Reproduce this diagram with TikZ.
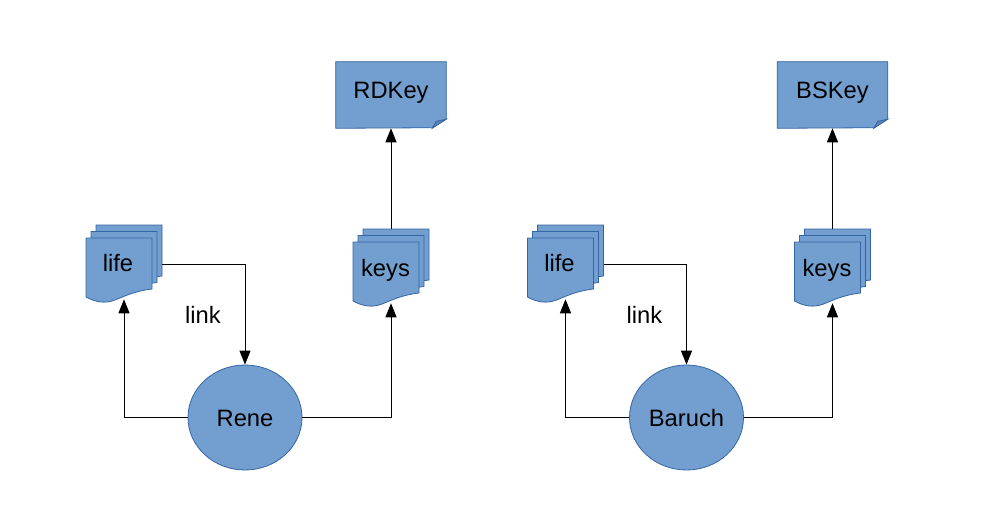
\documentclass[tikz,border=0pt]{standalone}
\usepackage{fontspec}
\setmainfont{Liberation Sans}
\usetikzlibrary{shapes.geometric,arrows.meta}
\definecolor{boxfill}{HTML}{729FCF}
\definecolor{boxline}{HTML}{3465A4}
\definecolor{foldfill}{HTML}{5C85B5}
\tikzset{
   label text/.style={font=\fontsize{17.8pt}{20pt}\selectfont,text=black,inner sep=0pt},
   frame/.style={inner sep=0pt,minimum width=57pt,minimum height=58.5pt},
   keybox/.style={inner sep=0pt,minimum width=82.5pt,minimum height=49.5pt},
   person/.style={ellipse,draw=boxline,fill=boxfill,line width=.6pt,inner sep=0pt,minimum width=85.5pt,minimum height=78.75pt},
   wire/.style={line width=.75pt,-{Triangle[length=10.5pt,width=8.25pt]}},
   page/.pic={
      \draw[draw=boxline,fill=boxfill,line width=.6pt] (0,0) -- (66,0) -- (66,51)
         .. controls (49,53) and (39,58) .. (29,62) .. controls (19,66) and (9,64) .. (0,59) -- cycle;
   }
}
\begin{document}
\begin{tikzpicture}[x=.75pt,y=-.75pt]
   \useasboundingbox (0,0) rectangle (1008,528);
   \foreach \dx/\who/\keyname/\tag in {0/Rene/RDKey/a,441.5/Baruch/BSKey/b} {
      % stacks of pages
      \foreach \px/\py in {96/225,91/231.5,86/238} { \pic at (\px+\dx,\py) {page}; }
      \foreach \px/\py in {363/229,358/235.5,353/242} { \pic at (\px+\dx,\py) {page}; }
      \node[frame] (life\tag) at (124+\dx,264) {};
      \node[frame] (keys\tag) at (391+\dx,268) {};
      \node[label text,anchor=base] (lifetext\tag) at (118+\dx,272) {life};
      \node[label text,anchor=base] (keystext\tag) at (385.5+\dx,276) {keys};
      % key note with its folded corner
      \node[keybox] (note\tag) at (391+\dx,95) {};
      \draw[draw=boxline,fill=boxfill,line width=.6pt] (note\tag.north west) -- (note\tag.north east)
         -- ++(0,57) -- ++(-14,9) -- (note\tag.south west) -- cycle;
      \draw[draw=boxline,fill=foldfill,line width=.6pt] (note\tag.south east) ++(0,-9) -- ++(-10,2) -- ++(-4,7) -- cycle;
      \node[label text,anchor=base] (notetext\tag) at (391+\dx,99) {\keyname};
      \node[person] (who\tag) at (245+\dx,417.5) {};
      \node[label text,anchor=base] (whotext\tag) at (245+\dx,426) {\who};
      \node[label text,anchor=base] (linktext\tag) at (203+\dx,323) {link};
      % connectors
      \draw[wire] (life\tag.east) -| (who\tag.north);
      \draw[wire,shorten >=-3pt] (who\tag.west) -| (life\tag.south);
      \draw[wire,shorten >=-3pt] (who\tag.east) -| (keys\tag.south);
      \draw[wire] (keys\tag.north) -- (note\tag.south);
   }
\end{tikzpicture}
\end{document}
